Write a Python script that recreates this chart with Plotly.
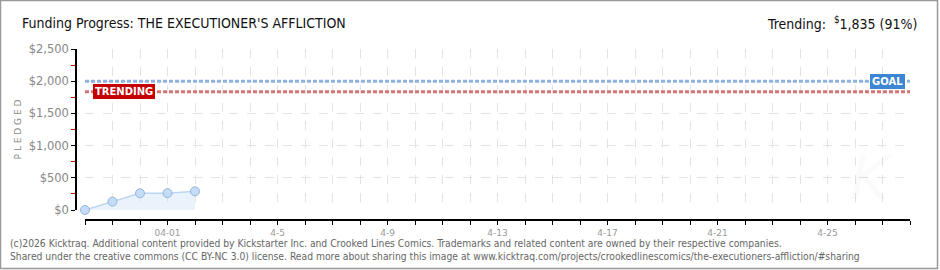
import plotly.graph_objects as go

# ---- data ----
dates = ["2026-03-29", "2026-03-30", "2026-03-31", "2026-04-01", "2026-04-02"]
pledged = [0, 130, 260, 262, 290]
goal = 2000
trending = 1835
trending_pct = 91
x_start, x_end = "2026-03-29", "2026-04-28"
y_ticks = [0, 500, 1000, 1500, 2000, 2500]
y_tick_text = ["$0", "$500", "$1,000", "$1,500", "$2,000", "$2,500"]
x_label_days = ["2026-04-01", "2026-04-05", "2026-04-09", "2026-04-13",
                "2026-04-17", "2026-04-21", "2026-04-25"]
x_label_text = ["04-01", "4-5", "4-9", "4-13", "4-17", "4-21", "4-25"]

DAY_MS = 86400000

W, H = 940, 270
ML, MR, MT, MB = 76, 30, 49, 50
PW, PH = W - ML - MR, H - MT - MB


def px(x):
    return (x - ML) / PW


def py(y):
    return (H - MB - y) / PH


FONT = "DejaVu Sans, sans-serif"
CFONT = "DejaVu Sans Condensed, DejaVu Sans, sans-serif"
GRID = dict(gridcolor="#e3e3e3", griddash="dash", gridwidth=1)

fig = go.Figure()
fig.add_trace(go.Scatter(
    x=dates, y=pledged, mode="lines+markers", fill="tozeroy",
    fillcolor="rgba(214,232,250,0.5)",
    line=dict(color="#bcd6f2", width=1.5),
    marker=dict(size=9, color="#c4dcf6", line=dict(color="#93b5de", width=1)),
    cliponaxis=False, showlegend=False, hoverinfo="skip"))

# goal and trending lines
fig.add_trace(go.Scatter(x=[x_start, x_end], y=[goal, goal], mode="lines",
                         line=dict(color="#8fb3e0", width=3, dash="4px,2px"),
                         showlegend=False, hoverinfo="skip"))
fig.add_trace(go.Scatter(x=[x_start, x_end], y=[trending, trending], mode="lines",
                         line=dict(color="#d47474", width=3, dash="4px,2px"),
                         showlegend=False, hoverinfo="skip"))

fig.update_layout(
    width=W, height=H, margin=dict(l=ML, r=MR, t=MT, b=MB),
    paper_bgcolor="white", plot_bgcolor="white",
    font=dict(family=FONT, color="#888"),
    xaxis=dict(domain=[px(85), 1], anchor="free", position=0,
               range=[x_start, x_end], tickvals=x_label_days, ticktext=x_label_text,
               ticks="outside", ticklen=4, tickcolor="black", tickwidth=1,
               showline=True, linecolor="black", linewidth=1.5,
               showgrid=True, **GRID,
               minor=dict(tickmode="linear", tick0=x_start, dtick=DAY_MS,
                          ticks="outside", ticklen=4, tickcolor="black",
                          showgrid=True, **GRID),
               tickfont=dict(size=9, color="#999"), zeroline=False),
    yaxis=dict(domain=[py(210), 1], anchor="free", position=0,
               range=[0, 2500], tickvals=y_ticks, ticktext=y_tick_text,
               ticks="outside", ticklen=4, tickcolor="black",
               showline=True, linecolor="black", linewidth=1.5,
               showgrid=True, **GRID,
               tickfont=dict(size=11.5, color="#888"), zeroline=False,
               minor=dict(tickmode="linear", tick0=0, dtick=250, ticks="outside",
                          ticklen=4, tickcolor="#e00000", showgrid=False),
               title=dict(text="P L E D G E D", font=dict(size=9, color="#888"),
                          standoff=5)),
)

# labels on lines
fig.add_annotation(xref="paper", yref="y", x=px(905), y=goal, xanchor="right",
                   yanchor="middle", text="<b>GOAL</b>", showarrow=False,
                   bgcolor="#3d86d4", bordercolor="#3d86d4", borderpad=1,
                   font=dict(family=FONT, size=10, color="white"))
fig.add_annotation(xref="paper", yref="y", x=px(93), y=trending, xanchor="left",
                   yanchor="middle", text="<b>TRENDING</b>", showarrow=False,
                   bgcolor="#c40000", bordercolor="#c40000", borderpad=1,
                   font=dict(family=FONT, size=10, color="white"))

# title and trending header
fig.add_annotation(xref="paper", yref="paper", x=px(20), y=py(23), xanchor="left",
                   yanchor="middle", showarrow=False,
                   text="Funding Progress: THE EXECUTIONER'S AFFLICTION",
                   font=dict(family=CFONT, size=14, color="#111"))
fig.add_annotation(xref="paper", yref="paper", x=px(919), y=py(23), xanchor="right",
                   yanchor="middle", showarrow=False,
                   text=f"Trending:  <sup>$</sup>{trending:,} ({trending_pct}%)",
                   font=dict(family=CFONT, size=14, color="#111"))

# faint watermark
fig.add_annotation(xref="paper", yref="paper", x=px(872), y=py(178), xanchor="center",
                   yanchor="middle", showarrow=False, text="<i>K</i>",
                   font=dict(family=FONT, size=60, color="rgba(0,0,0,0.018)"))

# footer
fig.add_annotation(xref="paper", yref="paper", x=px(8), y=py(243), xanchor="left",
                   yanchor="middle", showarrow=False,
                   text="(c)2026 Kicktraq. Additional content provided by Kickstarter Inc. and Crooked Lines Comics. Trademarks and related content are owned by their respective companies.",
                   font=dict(family=CFONT, size=10.25, color="#666"))
fig.add_annotation(xref="paper", yref="paper", x=px(8), y=py(256), xanchor="left",
                   yanchor="middle", showarrow=False,
                   text="Shared under the creative commons (CC BY-NC 3.0) license. Read more about sharing this image at www.kicktraq.com/projects/crookedlinescomics/the-executioners-affliction/#sharing",
                   font=dict(family=CFONT, size=10.25, color="#666"))

# outer border
fig.add_shape(type="rect", xref="paper", yref="paper", x0=px(0.5), x1=px(937.5),
              y0=py(268.5), y1=py(0.5), line=dict(color="#999", width=1.5),
              layer="below")

fig.write_html("out.html")
